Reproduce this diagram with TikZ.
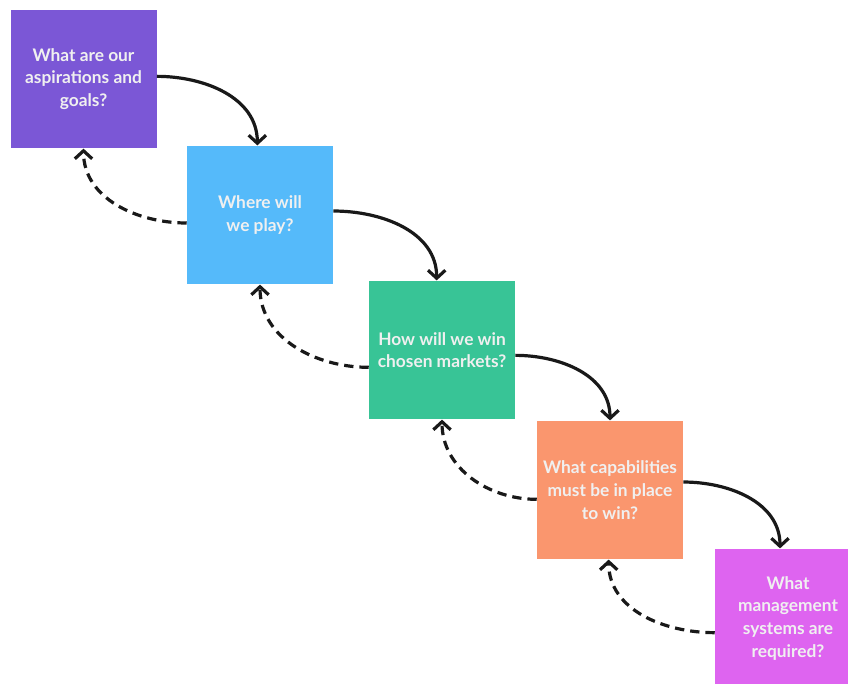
\documentclass[tikz,border=0pt]{standalone}
\usepackage{fontspec}
\setmainfont{Lato}
\usetikzlibrary{arrows.meta}
\definecolor{qpurple}{RGB}{123,87,214}
\definecolor{qblue}{RGB}{85,186,250}
\definecolor{qgreen}{RGB}{56,196,150}
\definecolor{qorange}{RGB}{250,150,110}
\definecolor{qmagenta}{RGB}{222,100,240}
\tikzset{
  qbox/.style={rectangle, align=center, text=white!94!black, minimum width=109.5pt, minimum height=104pt, inner sep=2pt, font=\fontsize{13}{17}\selectfont\bfseries},
  arr/.style={-{Straight Barb[length=6pt, width=13pt]}, line width=2.4pt, black!90},
  darr/.style={-{Straight Barb[length=6pt, width=13pt]}, line width=2.4pt, black!90, dash pattern=on 7pt off 4.5pt},
}
\begin{document}
\begin{tikzpicture}[x=0.75pt, y=-0.75pt]
\useasboundingbox (0,0) rectangle (848,683);
\node[qbox, fill=qpurple] (aim) at (83.5,79) {What are our\\aspirations and\\goals?};
\node[qbox, fill=qblue] (play) at (260,215) {Where will\\we play?};
\node[qbox, fill=qgreen] (win) at (442,350) {How will we win\\chosen markets?};
\node[qbox, fill=qorange] (cap) at (610,490) {What capabilities\\must be in place\\to win?};
\node[qbox, fill=qmagenta] (mgmt) at (788,618) {What\\management\\systems are\\required?};
\draw[arr] ([yshift=2pt]aim.east) to[out=0, in=90] ([xshift=-2pt]play.north);
\draw[arr] ([yshift=3pt]play.east) to[out=0, in=90] ([xshift=-4pt]win.north);
\draw[arr] ([yshift=-4pt]win.east) to[out=0, in=90] (cap.north);
\draw[arr] ([yshift=6pt]cap.east) to[out=0, in=90] ([xshift=-6pt]mgmt.north);
\draw[darr] ([yshift=-6pt]play.west) to[out=180, in=-90] (aim.south);
\draw[darr] ([yshift=-13pt]win.west) to[out=180, in=-90] (play.south);
\draw[darr] ([yshift=-7pt]cap.west) to[out=180, in=-90] (win.south);
\draw[darr] ([yshift=-11pt]mgmt.west) to[out=180, in=-90] ([xshift=-1pt]cap.south);
\end{tikzpicture}
\end{document}
